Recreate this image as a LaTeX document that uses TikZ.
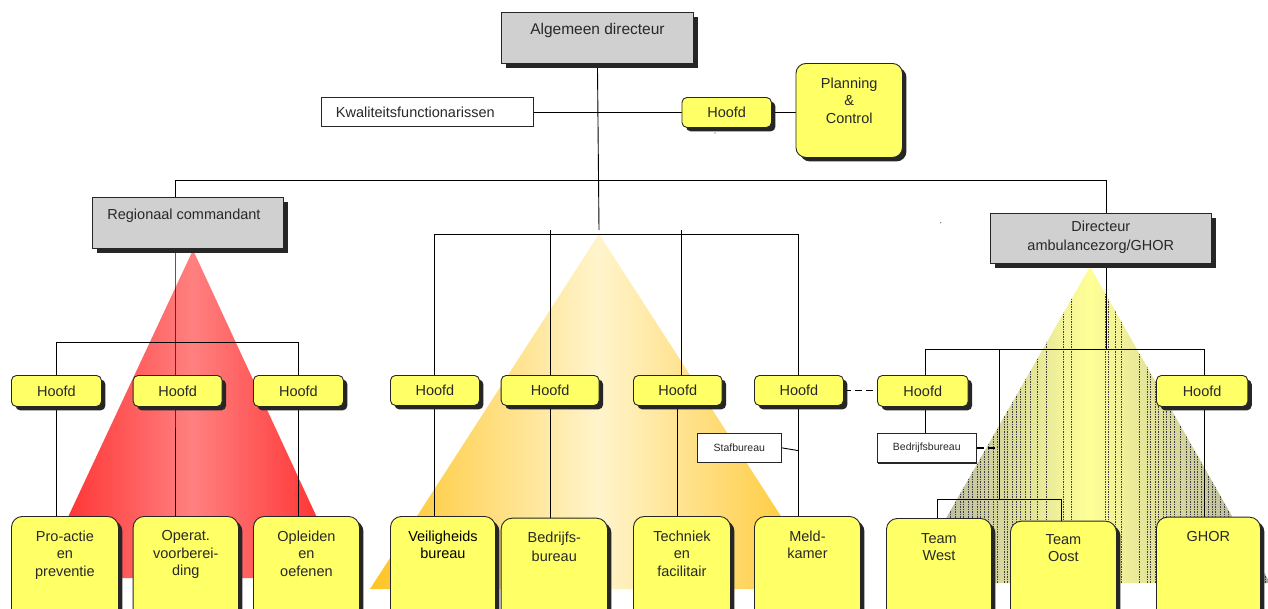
\documentclass[tikz,border=0pt]{standalone}
\usepackage{fontspec}
\setmainfont{Liberation Sans}
\usetikzlibrary{shadows,calc,backgrounds}
\definecolor{yel}{RGB}{255,255,102}
\definecolor{gbox}{RGB}{208,208,208}
\definecolor{shd}{RGB}{38,38,38}
\definecolor{txt}{RGB}{40,40,40}
\definecolor{redE}{RGB}{255,38,38}
\definecolor{redC}{RGB}{255,128,128}
\definecolor{orE}{RGB}{255,196,36}
\definecolor{orC}{RGB}{255,244,204}
\definecolor{grE}{RGB}{172,172,164}
\definecolor{grC}{RGB}{255,255,150}
\newcommand\fsz{\fontsize{14.5}{17.5}\selectfont}
\newcommand\fsm{\fontsize{10.5}{12}\selectfont}
\begin{document}
\begin{tikzpicture}[x=1pt,y=-1pt,
  box/.style={draw=shd, line width=0.9pt, anchor=north west, inner sep=0pt, text=txt},
  ybx/.style={box, fill=yel, rounded corners=5pt,
    drop shadow={shadow xshift=4pt, shadow yshift=-4pt, fill=shd, opacity=1}},
  hd/.style={ybx, minimum height=31pt, font=\fsz},
  bbx/.style={ybx, rounded corners=11pt, minimum height=110pt},
  gbx/.style={box, fill=gbox,
    drop shadow={shadow xshift=5pt, shadow yshift=-5pt, fill=shd, opacity=1}},
  wbx/.style={box, fill=white,
    drop shadow={shadow xshift=1pt, shadow yshift=-1pt, fill=shd, opacity=1}},
  lbl/.style={anchor=north, align=center, inner sep=0pt, font=\fsz, text=txt},
  ln/.style={line width=0.9pt, black},
  dsh/.style={line width=1.8pt, black, dash pattern=on 7pt off 4pt},
  hatch/.style={line width=0.45pt, black!75, dash pattern=on 1.5pt off 1pt}]
\useasboundingbox (0,0) rectangle (1268,608);

% ---------- top ----------
\node[gbx, minimum width=192pt, minimum height=51pt,
  label={[lbl,yshift=-10.7pt,font=\fontsize{15.5}{18}\selectfont]north:Algemeen directeur}] (alg) at (501,12) {};
\node[wbx, minimum height=29pt, text width=182.5pt, inner xsep=15pt, align=left, font=\fsz] (kwal) at (320.5,97) {Kwaliteitsfunctionarissen};
\node[hd, minimum width=89.5pt, minimum height=30pt] (ht) at (681.5,97) {Hoofd};
\node[ybx, rounded corners=10pt, minimum width=106.5pt, minimum height=94pt,
  label={[lbl,yshift=-14.3pt]north:{Planning\\\&\\Control}}] (plan) at (795.5,63) {};

% ---------- left group ----------
\node[gbx, minimum width=191pt, minimum height=51pt,
  label={[lbl,yshift=-11.3pt,xshift=-4pt]north:Regionaal commandant}] (reg) at (92,197) {};
\node[hd, minimum width=90pt] (hl1) at (11,375) {Hoofd};
\node[hd, minimum width=89pt] (hl2) at (132.7,375) {Hoofd};
\node[hd, minimum width=90pt] (hl3) at (253,375) {Hoofd};
\node[bbx, minimum width=107pt, label={[lbl,yshift=-14.5pt]north:{Pro-actie\\en\\preventie}}] (bl1) at (11,516) {};
\node[bbx, minimum width=105.3pt, label={[lbl,yshift=-14.5pt]north:{Operat.\\voorberei-\\ding}}] (bl2) at (132.7,516) {};
\node[bbx, minimum width=106pt, label={[lbl,yshift=-14.5pt]north:{Opleiden\\en\\oefenen}}] (bl3) at (253,516) {};

% ---------- middle group ----------
\node[hd, minimum width=89pt, minimum height=30pt] (hm1) at (390,375) {Hoofd};
\node[hd, minimum width=98pt, minimum height=30pt] (hm2) at (500.7,375) {Hoofd};
\node[hd, minimum width=88.7pt, minimum height=30pt] (hm3) at (633,375) {Hoofd};
\node[hd, minimum width=89pt, minimum height=30pt] (hm4) at (754,375) {Hoofd};
\node[bbx, minimum width=105pt, label={[lbl,yshift=-14.5pt,text=black]north:{Veiligheids\\bureau}}] (bm1) at (390,516) {};
\node[bbx, minimum width=106.3pt, label={[lbl,yshift=-14pt]north:{Bedrijfs-\\[1.5pt]bureau}}] (bm2) at (500.7,517.7) {};
\node[bbx, minimum width=97pt, label={[lbl,yshift=-14.5pt]north:{Techniek\\en\\facilitair}}] (bm3) at (633,516) {};
\node[bbx, minimum width=106pt, label={[lbl,yshift=-14.5pt]north:{Meld-\\kamer}}] (bm4) at (754,516) {};
\node[wbx, minimum width=83.7pt, minimum height=29.3pt, font=\fsm] (staf) at (697,432.7) {Stafbureau};

% ---------- right group ----------
\node[gbx, minimum width=220.7pt, minimum height=50.3pt,
  label={[lbl,yshift=-8.3pt]north:{Directeur\\[1.5pt]ambulancezorg/GHOR}}] (dir) at (990,212.7) {};
\node[hd, minimum width=90.7pt] (hr1) at (877,375) {Hoofd};
\node[hd, minimum width=91.3pt] (hr2) at (1156,375) {Hoofd};
\node[wbx, minimum width=98.7pt, minimum height=29.6pt, font=\fsm] (bedr) at (877,432.7) {Bedrijfsbureau};
\node[bbx, minimum width=105pt, label={[lbl,yshift=-15pt]north:{Team\\West}}] (tw) at (886,518) {};
\node[bbx, minimum width=106pt, label={[lbl,yshift=-13.6pt]north:{Team\\Oost}}] (to) at (1010,520.7) {};
\node[bbx, minimum width=104pt, label={[lbl,yshift=-14.3pt]north:GHOR}] (ghor) at (1156,516.7) {};

% tiny specks
\fill[black!70] (715,133) circle (0.6);
\fill[black!70] (940.7,222.7) circle (0.6);

\begin{pgfonlayer}{background}
  % triangles
  \begin{scope}
    \clip (193,250) -- (39.5,578) -- (345,578) -- cycle;
    \shade[left color=redE, right color=redE, middle color=redC] (39.5,250) rectangle (345,578);
  \end{scope}
  \begin{scope}
    \clip (599,234) -- (370,589) -- (828,589) -- cycle;
    \shade[left color=orE, right color=orE, middle color=orC] (370,234) rectangle (828,589);
  \end{scope}
  \begin{scope}
    \clip (1090,266.7) -- (909,583) -- (1270,583) -- cycle;
    \shade[left color=grE, right color=grE, middle color=grC] (909,266.7) rectangle (1270,583);
    \foreach \x in {913,917,921,925,929,933,937,941,945,950,955,960,963,968,972,977,980,984,988,993,997,1004,1007,1012,1016,1020,1025,1030,1037,1046,1063,1071,1105,1108,1115,1121,1139,1147,1150,1155,1158,1163,1166,1170,1174,1180,1186,1190,1194,1197,1201,1208,1212,1215,1220,1224,1228,1232,1236,1240,1245,1250,1255,1260,1265}
      \draw[hatch] (\x,266) -- (\x,583);
  \end{scope}

  % top connectors
  \coordinate (tl) at (175,180);
  \coordinate (tr) at (1106,180);
  \draw[ln] (reg.north -| tl) -- (tl) -- (tr) -- (dir.north -| tr);
  \coordinate (mj) at (599,230);
  \draw[ln] (alg.south) -- (mj);
  \draw[ln] (kwal.east) -- (kwal.east -| ht.west);
  \draw[ln] (ht.east) -- (ht.east -| plan.west);

  % left connectors
  \coordinate (lbar) at (175,342.7);
  \coordinate (lb1) at (56,342.7);
  \coordinate (lb3) at (298,342.7);
  \draw[ln] (reg.south -| lbar) -- (lbar) -- (bl2.north -| lbar);
  \draw[ln] (bl1.north -| lb1) -- (lb1) -- (lb3) -- (bl3.north -| lb3);

  % middle connectors
  \coordinate (mb1) at (434,234);
  \coordinate (mb4) at (798.7,234);
  \draw[ln] (bm1.north -| mb1) -- (mb1) -- (mb4) -- (bm4.north -| mb4);
  \coordinate (m2) at (550.7,230);
  \draw[ln] (m2) -- (bm2.north -| m2);
  \coordinate (m3) at (681,230);
  \draw[ln] (m3) -- (hm3.north -| m3);
  \draw[ln] (hm3.south) -- (hm3.south |- bm3.north);
  \coordinate (sj) at (798.7,450.7);
  \draw[ln] (staf.east) -- (sj);
  \draw[dsh] (hm4.east) -- (hm4.east -| hr1.west);

  % right connectors
  \coordinate (rbar) at (1106,349);
  \coordinate (rb1) at (925.7,349);
  \coordinate (rb2) at (1204,349);
  \draw[ln] (dir.south -| rbar) -- (rbar);
  \draw[ln] (hr1.north -| rb1) -- (rb1) -- (rb2) -- (hr2.north -| rb2);
  \draw[ln] (hr1.south -| rb1) -- (bedr.north -| rb1);
  \draw[ln] (hr2.south -| rb2) -- (ghor.north -| rb2);
  \coordinate (rj) at (999.3,349);
  \coordinate (tj) at (999.3,499);
  \draw[ln] (rj) -- (tj);
  \coordinate (twj) at (937,499);
  \coordinate (toj) at (1061.3,499);
  \draw[ln] (tw.north -| twj) -- (twj) -- (toj) -- (to.north -| toj);
  \draw[dsh] (bedr.east) -- (bedr.east -| tj);
\end{pgfonlayer}
\end{tikzpicture}
\end{document}
